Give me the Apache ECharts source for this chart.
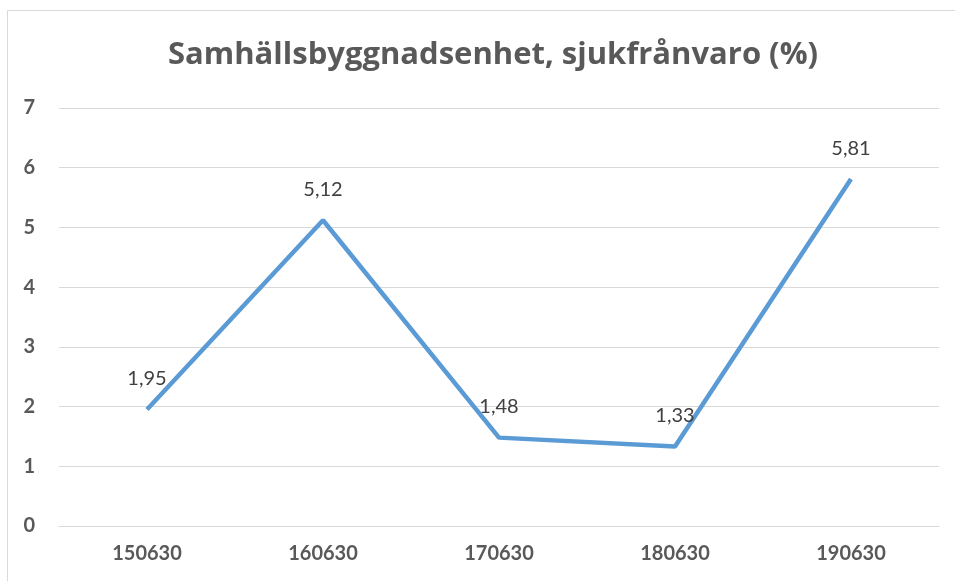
<!DOCTYPE html>
<html>
<head>
<meta charset="utf-8">
<script src="https://cdn.jsdelivr.net/npm/echarts@6/dist/echarts.min.js"></script>
<style>
    html, body {margin: 0; padding: 0; background: #fff;}
    #chart {width: 955px; height: 581px;}
</style>
</head>
<body>
<div id="chart"></div>
<script>
var titleText = "Samhällsbyggnadsenhet, sjukfrånvaro (%)";
var categories = ["150630", "160630", "170630", "180630", "190630"];
var values = [1.95, 5.12, 1.48, 1.33, 5.81];
var yTicks = [0, 1, 2, 3, 4, 5, 6, 7];

var myChart = echarts.init(document.getElementById('chart'));

var option = {
    animation: false,
    backgroundColor: '#fff',
    title: {
        text: titleText, left: 163, top: 35,
        textStyle: {fontFamily: 'Open Sans', fontWeight: 'bold', fontSize: 31, color: '#595959'}
    },
    // frame round the chart area, like the Excel chart border
    graphic: [{
        type: 'rect', silent: true,
        shape: {x: 7.5, y: 10.5, width: 1000, height: 700},
        style: {fill: 'none', stroke: '#d9d9d9', lineWidth: 1}
    }],
    grid: {left: 59, right: 16, top: 108, bottom: 55},
    xAxis: {
        type: 'category', data: categories,
        axisLine: {show: true, lineStyle: {color: '#d9d9d9', width: 1}},
        axisTick: {show: false},
        axisLabel: {margin: 18, fontFamily: 'Lato', fontWeight: 'bold', fontSize: 20, color: '#595959'}
    },
    yAxis: {
        type: 'value', min: yTicks[0], max: yTicks[yTicks.length - 1], interval: 1,
        axisLine: {show: false},
        axisTick: {show: false},
        splitLine: {lineStyle: {color: '#d9d9d9', width: 1}},
        axisLabel: {margin: 24, fontFamily: 'Lato', fontWeight: 'bold', fontSize: 20, color: '#595959'}
    },
    series: [{
        type: 'line', data: values,
        symbol: 'circle', symbolSize: 2,
        itemStyle: {color: 'transparent', borderWidth: 0},
        lineStyle: {color: '#5b9bd5', width: 4.5},
        label: {
            show: true, position: 'top', distance: 20,
            fontFamily: 'Lato', fontSize: 20, color: '#404040',
            formatter: function (p) { return p.value.toFixed(2).replace('.', ','); }
        }
    }]
};

myChart.setOption(option);
</script>
</body>
</html>
